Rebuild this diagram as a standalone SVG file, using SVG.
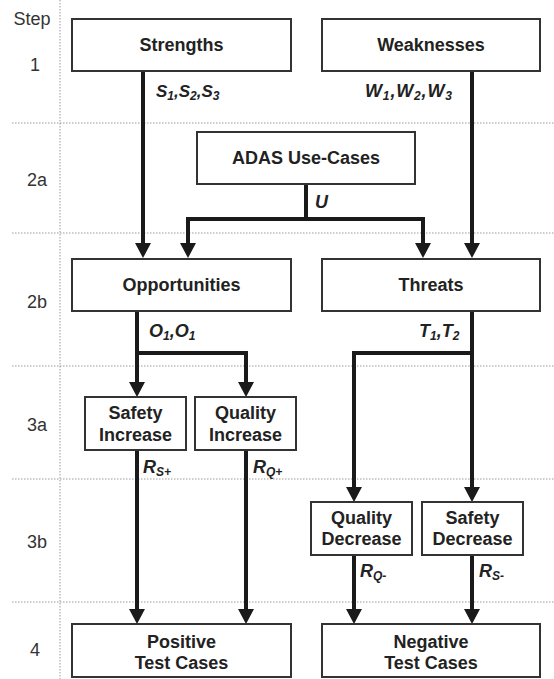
<svg xmlns="http://www.w3.org/2000/svg" width="554" height="679" viewBox="0 0 554 679">
<style>
.grid{stroke:#9a9a9a;stroke-width:1;stroke-dasharray:1.5 1.5;fill:none}
.box{fill:#fff;stroke:#333;stroke-width:2}
.t{font-family:"Liberation Sans",Arial,sans-serif;font-size:18px;font-weight:bold;fill:#222;text-anchor:middle}
.step{font-family:"Liberation Sans",Arial,sans-serif;font-size:18px;fill:#333;text-anchor:middle}
.lbl{font-family:"Liberation Sans",Arial,sans-serif;font-size:18px;font-weight:bold;font-style:italic;fill:#222}
.sub{font-size:12px}
.conn path{fill:none;stroke:#1a1a1a;stroke-width:4;marker-end:url(#ah)}
</style>
<defs>
<marker id="ah" markerUnits="userSpaceOnUse" viewBox="0 0 15 16" refX="0" refY="8" markerWidth="15" markerHeight="16" orient="auto">
<path d="M0,0 L15,8 L0,16 Z" fill="#1a1a1a"/>
</marker>
</defs>
<rect width="554" height="679" fill="#fff"/>
<g id="grid">
<path class="grid" d="M60,0 V679"/>
<path class="grid" d="M12,123 H554 M12,233 H554 M12,366 H554 M12,479 H554 M12,602 H554"/>
</g>
<g id="steps">
<text class="step" x="32" y="25">Step</text>
<text class="step" x="35" y="71">1</text>
<text class="step" x="37" y="186">2a</text>
<text class="step" x="37" y="308">2b</text>
<text class="step" x="37" y="431">3a</text>
<text class="step" x="37" y="548">3b</text>
<text class="step" x="35" y="656">4</text>
</g>
<g class="conn" id="connectors">
<path d="M143,71 V243"/>
<path d="M472,71 V243"/>
<path d="M306,184 V219 H188 V243"/>
<path d="M306,219 H423 V243"/>
<path d="M137,311 V353 H246 V382"/>
<path d="M137,353 V382"/>
<path d="M472,311 V353 H354 V487"/>
<path d="M472,353 V487"/>
<path d="M137,450 V609"/>
<path d="M246,450 V609"/>
<path d="M354,555 V609"/>
<path d="M472,555 V609"/>
</g>
<g id="labels">
<text class="lbl" x="156" y="97" style="font-size:17px">S<tspan class="sub" dy="3">1</tspan><tspan dy="-3">,S</tspan><tspan class="sub" dy="3">2</tspan><tspan dy="-3">,S</tspan><tspan class="sub" dy="3">3</tspan></text>
<text class="lbl" x="365" y="97" textLength="87">W<tspan class="sub" dy="3">1</tspan><tspan dy="-3">,W</tspan><tspan class="sub" dy="3">2</tspan><tspan dy="-3">,W</tspan><tspan class="sub" dy="3">3</tspan></text>
<text class="lbl" x="315" y="208">U</text>
<text class="lbl" x="149" y="337">O<tspan class="sub" dy="3">1</tspan><tspan dy="-3">,O</tspan><tspan class="sub" dy="3">1</tspan></text>
<text class="lbl" x="419" y="337">T<tspan class="sub" dy="3">1</tspan><tspan dy="-3">,T</tspan><tspan class="sub" dy="3">2</tspan></text>
<text class="lbl" x="143" y="473">R<tspan class="sub" dy="3">S+</tspan></text>
<text class="lbl" x="253" y="473">R<tspan class="sub" dy="3">Q+</tspan></text>
<text class="lbl" x="360" y="577">R<tspan class="sub" dy="3">Q-</tspan></text>
<text class="lbl" x="479" y="577">R<tspan class="sub" dy="3">S-</tspan></text>
</g>
<g id="strengths"><rect class="box" x="72" y="19" width="219" height="52"/><text class="t" x="181.5" y="51">Strengths</text></g>
<g id="weaknesses"><rect class="box" x="322" y="19" width="218" height="52"/><text class="t" x="431" y="51">Weaknesses</text></g>
<g id="adas"><rect class="box" x="197" y="132" width="218" height="52"/><text class="t" x="306" y="164">ADAS Use-Cases</text></g>
<g id="opportunities"><rect class="box" x="72" y="259" width="219" height="52"/><text class="t" x="181.5" y="291">Opportunities</text></g>
<g id="threats"><rect class="box" x="322" y="259" width="218" height="52"/><text class="t" x="431" y="291">Threats</text></g>
<g id="safety-increase"><rect class="box" x="85" y="397" width="101" height="53"/><text class="t" x="135.5" y="419">Safety</text><text class="t" x="135.5" y="441">Increase</text></g>
<g id="quality-increase"><rect class="box" x="195" y="397" width="101" height="53"/><text class="t" x="245.5" y="419">Quality</text><text class="t" x="245.5" y="441">Increase</text></g>
<g id="quality-decrease"><rect class="box" x="311" y="502" width="101" height="53"/><text class="t" x="361.5" y="524">Quality</text><text class="t" x="361.5" y="545">Decrease</text></g>
<g id="safety-decrease"><rect class="box" x="422" y="502" width="101" height="53"/><text class="t" x="472.5" y="524">Safety</text><text class="t" x="472.5" y="545">Decrease</text></g>
<g id="positive"><rect class="box" x="72" y="624" width="219" height="53"/><text class="t" x="181.5" y="648">Positive</text><text class="t" x="181.5" y="669">Test Cases</text></g>
<g id="negative"><rect class="box" x="322" y="624" width="218" height="53"/><text class="t" x="431" y="648">Negative</text><text class="t" x="431" y="669">Test Cases</text></g>
</svg>
